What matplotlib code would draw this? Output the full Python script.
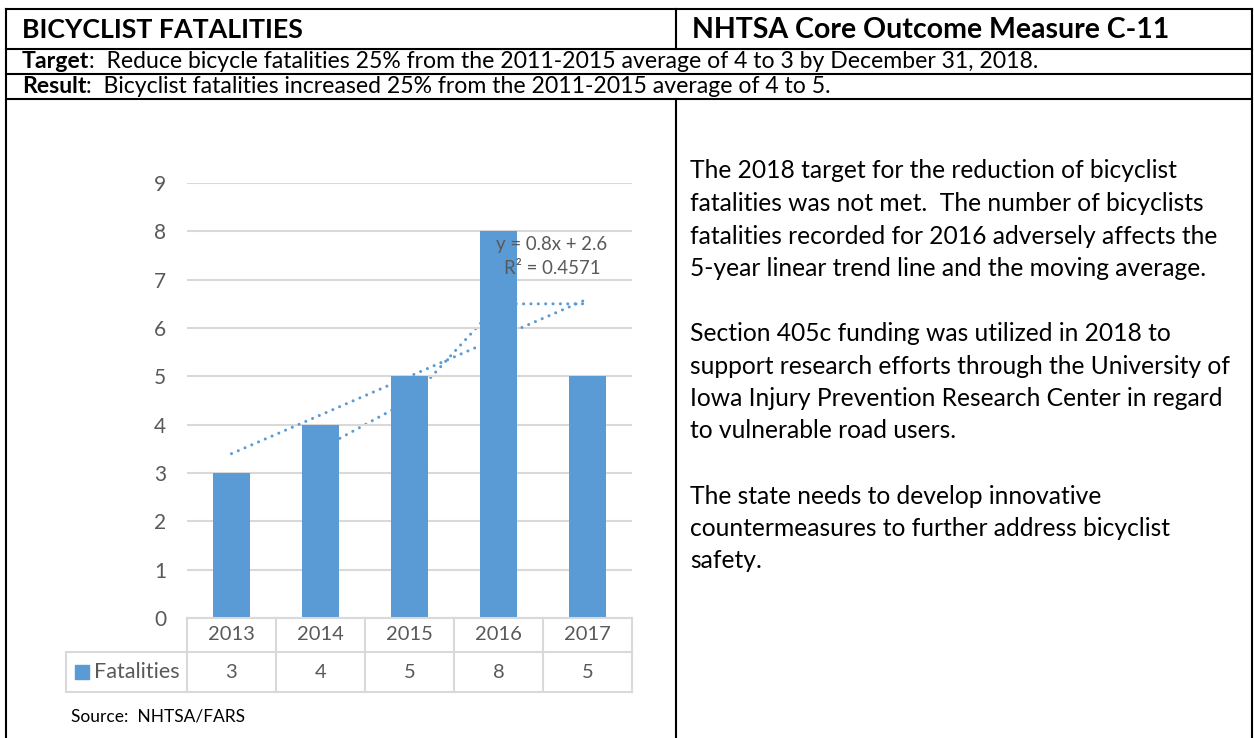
import numpy as np
import pandas as pd
import matplotlib
matplotlib.use("Agg")
import matplotlib.pyplot as plt
from matplotlib.patches import Rectangle
from matplotlib import transforms

plt.rcParams['font.family'] = ['Lato', 'DejaVu Sans']

years = ['2013', '2014', '2015', '2016', '2017']
fatalities = [3, 4, 5, 8, 5]
series_name = 'Fatalities'
yticks = list(range(0, 10))

header_left = 'BICYCLIST FATALITIES'
header_right = 'NHTSA Core Outcome Measure C-11'
target_txt = ':  Reduce bicycle fatalities 25% from the 2011-2015 average of 4 to 3 by December 31, 2018.'
result_txt = ':  Bicyclist fatalities increased 25% from the 2011-2015 average of 4 to 5.'
body_lines = [
    'The 2018 target for the reduction of bicyclist',
    'fatalities was not met.  The number of bicyclists',
    'fatalities recorded for 2016 adversely affects the',
    '5-year linear trend line and the moving average.',
    '',
    'Section 405c funding was utilized in 2018 to',
    'support research efforts through the University of',
    'Iowa Injury Prevention Research Center in regard',
    'to vulnerable road users.',
    '',
    'The state needs to develop innovative',
    'countermeasures to further address bicyclist',
    'safety.',
]
source_txt = 'Source:  NHTSA/FARS'

W, H = 1254, 738
BLUE = '#5b9bd5'
GRAY = '#595959'
GRID = '#d9d9d9'

fig = plt.figure(figsize=(W / 100, H / 100), dpi=100)
bg = fig.add_axes([0, 0, 1, 1])
bg.set_xlim(0, W); bg.set_ylim(H, 0); bg.axis('off')

# table frame
lw = 1.5
for y in [9, 49, 74, 99]:
    bg.plot([6, 1252], [y, y], color='black', lw=lw, solid_capstyle='projecting')
bg.plot([6, 6], [9, H], color='black', lw=lw)
bg.plot([1252, 1252], [9, H], color='black', lw=lw)
bg.plot([676, 676], [9, 49], color='black', lw=lw)
bg.plot([676, 676], [99, H], color='black', lw=lw)

bg.text(22, 30, header_left, fontsize=19.3, fontweight='bold', va='center')
bg.text(692, 30, header_right, fontsize=20.5, fontweight='bold', va='center')

fig.canvas.draw()
r = fig.canvas.get_renderer()
for y, word, rest in [(61.5, 'Target', target_txt), (86.5, 'Result', result_txt)]:
    t = bg.text(22, y, word, fontsize=16.6, fontweight='bold', va='center')
    bb = t.get_window_extent(r)
    bg.text(bb.x1, y, rest, fontsize=16.6, va='center',
            transform=transforms.blended_transform_factory(
                transforms.IdentityTransform(), bg.transData))

for i, line in enumerate(body_lines):
    bg.text(690, 171 + i * 32.5, line, fontsize=17.7, va='center')

bg.text(71, 717, source_txt, fontsize=12.5, va='center')

# chart
x0, x1, yb, yt = 187, 632, 618, 183
ax = fig.add_axes([x0 / W, 1 - yb / H, (x1 - x0) / W, (yb - yt) / H])
x = np.arange(len(years))
ax.bar(x, fatalities, width=0.41, color=BLUE, zorder=2)
ax.set_xlim(-0.5, len(years) - 0.5)
ax.set_ylim(0, 9)
ax.set_yticks(yticks)
ax.set_xticks([])
ax.tick_params(axis='y', length=0, pad=15, labelsize=15, labelcolor=GRAY)
ax.grid(axis='y', color=GRID, lw=1.5, zorder=0)
for s in ax.spines.values():
    s.set_visible(False)

# linear trend and 2-period moving average
k = np.arange(1, len(years) + 1)
slope, icpt = np.polyfit(k, fatalities, 1)
fit = slope * k + icpt
r2 = 1 - np.sum((np.array(fatalities) - fit) ** 2) / np.sum((np.array(fatalities) - np.mean(fatalities)) ** 2)
ma = pd.Series(fatalities).rolling(2).mean()
dot = (0, (0.01, 2.4))
ax.plot(x, fit, color=BLUE, lw=2.2, ls=dot, dash_capstyle='round', zorder=3)
ax.plot(x[1:], ma[1:], color=BLUE, lw=2.2, ls=dot, dash_capstyle='round', zorder=1)
ax.text(3.6, 7.48, f'y = {slope:.1f}x + {icpt:.1f}\nR² = {r2:.4f}', ha='center', va='center',
        fontsize=13.4, color=GRAY, linespacing=1.45, zorder=4)

# data table below the axis
tr = transforms.blended_transform_factory(ax.transData, ax.transAxes)
ph = yb - yt
r1 = -34 / ph
r2b = -74 / ph
left = -0.5 - 121 / 89
tl = dict(color=GRID, lw=1.5, transform=tr, clip_on=False)
ax.plot([-0.5, 4.5], [0, 0], **tl)
ax.plot([left, 4.5], [r1, r1], **tl)
ax.plot([left, 4.5], [r2b, r2b], **tl)
ax.plot([left, left], [r1, r2b], **tl)
for b in np.arange(-0.5, 5, 1):
    ax.plot([b, b], [0, r2b], **tl)
for i in range(len(years)):
    ax.text(i, r1 / 2, years[i], transform=tr, ha='center', va='center', fontsize=14.5, color=GRAY)
    ax.text(i, (r1 + r2b) / 2, str(fatalities[i]), transform=tr, ha='center', va='center',
            fontsize=14.5, color=GRAY)
ax.add_patch(Rectangle((left + 9 / 89, (r1 + r2b) / 2 - 7 / ph), 14 / 89, 14 / ph,
                       color=BLUE, transform=tr, clip_on=False))
ax.text(left + 28 / 89, (r1 + r2b) / 2, series_name, transform=tr, ha='left', va='center',
        fontsize=15.5, color=GRAY)

fig.savefig('out.png', dpi=100)
